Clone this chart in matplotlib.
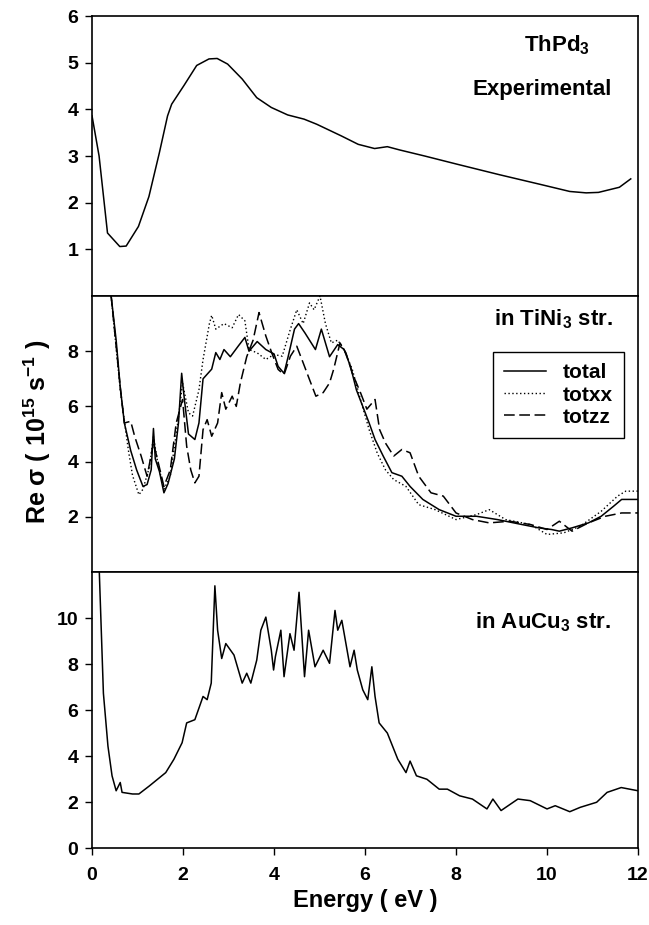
import matplotlib
matplotlib.use('Agg')
import matplotlib.pyplot as plt
import numpy as np

plt.rcParams['font.family'] = 'Liberation Sans'
plt.rcParams['font.weight'] = 'bold'
plt.rcParams['mathtext.fontset'] = 'custom'
plt.rcParams['mathtext.rm'] = 'Liberation Sans:bold'
plt.rcParams['mathtext.default'] = 'rm'

# ThPd3 experimental
exp_e = [0, 0.155, 0.34, 0.61, 0.75, 1.02, 1.25, 1.48, 1.66, 1.75, 2.02, 2.30, 2.57, 2.75,
         2.98, 3.30, 3.62, 3.94, 4.30, 4.66, 4.94, 5.48, 5.85, 6.21, 6.49, 6.76, 7.31, 8.04,
         8.95, 9.86, 10.5, 10.86, 11.13, 11.59, 11.84]
exp_s = [3.86, 3.0, 1.35, 1.06, 1.07, 1.49, 2.13, 3.07, 3.86, 4.11, 4.51, 4.94, 5.08, 5.09,
         4.97, 4.65, 4.25, 4.04, 3.88, 3.79, 3.68, 3.43, 3.25, 3.16, 3.2, 3.13, 3.0, 2.82,
         2.6, 2.39, 2.24, 2.21, 2.22, 2.33, 2.51]

# TiNi3 structure: total
tot_e = [0.42, 0.53, 0.62, 0.71, 0.85, 0.98, 1.12, 1.21, 1.30, 1.35, 1.39, 1.48, 1.58, 1.67,
         1.81, 1.90, 1.97, 2.03, 2.12, 2.26, 2.35, 2.44, 2.63, 2.72, 2.81, 2.90, 3.04, 3.22,
         3.36, 3.45, 3.63, 3.82, 4.0, 4.09, 4.22, 4.31, 4.45, 4.54, 4.68, 4.91, 5.04, 5.22,
         5.40, 5.54, 5.68, 5.81, 5.95, 6.09, 6.22, 6.40, 6.59, 6.81, 6.99, 7.27, 7.63, 8.0,
         8.45, 8.91, 9.45, 9.82, 10.1, 10.27, 10.55, 10.91, 11.19, 11.46, 11.64, 12.0]
tot_s = [10.0, 8.4, 6.7, 5.4, 4.4, 3.7, 3.1, 3.17, 3.7, 5.2, 4.1, 3.65, 2.87, 3.2,
         4.1, 5.4, 7.2, 6.25, 5.0, 4.8, 5.4, 7.0, 7.35, 7.95, 7.7, 8.06, 7.8, 8.2,
         8.5, 8.0, 8.35, 8.06, 7.9, 7.45, 7.2, 7.8, 8.8, 9.0, 8.66, 8.06, 8.8, 7.8,
         8.24, 8.06, 7.45, 6.6, 6.0, 5.4, 4.8, 4.2, 3.6, 3.47, 3.1, 2.63, 2.26, 2.02,
         2.02, 1.9, 1.72, 1.6, 1.54, 1.48, 1.6, 1.78, 2.02, 2.38, 2.63, 2.63]

# TiNi3 structure: xx component
xx_e = [0.42, 0.62, 0.80, 0.89, 1.03, 1.12, 1.26, 1.35, 1.44, 1.58, 1.72, 1.90, 1.99, 2.12,
        2.21, 2.35, 2.44, 2.58, 2.63, 2.72, 2.90, 3.08, 3.22, 3.36, 3.45, 3.63, 3.82, 4.0,
        4.18, 4.36, 4.50, 4.64, 4.78, 4.88, 5.01, 5.13, 5.26, 5.40, 5.54, 5.72, 5.90, 6.09,
        6.27, 6.45, 6.63, 6.90, 7.18, 7.54, 8.0, 8.45, 8.73, 9.09, 9.64, 10.0, 10.37, 10.73,
        11.19, 11.55, 11.73, 12.0]
xx_s = [10.0, 6.6, 4.4, 3.5, 2.8, 3.0, 3.8, 4.9, 4.0, 3.0, 3.47, 5.6, 6.85, 5.77,
        5.65, 6.6, 7.7, 9.0, 9.3, 8.8, 9.0, 8.85, 9.33, 9.1, 8.06, 7.94, 7.7, 7.88,
        7.82, 8.8, 9.5, 9.0, 9.75, 9.5, 10.0, 9.0, 8.3, 8.4, 8.06, 7.34, 6.25, 5.16,
        4.3, 3.7, 3.35, 3.1, 2.44, 2.26, 1.9, 2.08, 2.26, 1.9, 1.72, 1.36, 1.42, 1.66,
        2.2, 2.75, 2.93, 2.93]

# TiNi3 structure: zz component
zz_e = [0.42, 0.62, 0.71, 0.85, 0.94, 1.08, 1.21, 1.35, 1.44, 1.58, 1.72, 1.85, 1.99, 2.08,
        2.17, 2.26, 2.35, 2.44, 2.53, 2.63, 2.76, 2.85, 2.94, 3.08, 3.17, 3.26, 3.40, 3.54,
        3.67, 3.82, 3.95, 4.09, 4.22, 4.36, 4.50, 4.64, 4.78, 4.92, 5.08, 5.22, 5.31, 5.45,
        5.58, 5.72, 5.90, 6.04, 6.22, 6.32, 6.45, 6.63, 6.81, 6.99, 7.18, 7.45, 7.72, 8.0,
        8.36, 8.73, 9.18, 9.64, 10.0, 10.27, 10.55, 10.91, 11.28, 11.64, 12.0]
zz_s = [10.0, 6.7, 5.4, 5.46, 4.9, 4.2, 3.47, 4.67, 4.07, 3.1, 3.7, 5.4, 6.25, 4.56,
        3.7, 3.23, 3.47, 5.16, 5.52, 4.92, 5.4, 6.5, 5.9, 6.37, 6.0, 6.85, 7.8, 8.4,
        9.4, 8.55, 7.94, 7.34, 7.15, 7.82, 8.18, 7.58, 6.97, 6.37, 6.5, 6.85, 7.34, 8.3,
        7.94, 7.2, 6.5, 5.9, 6.25, 5.16, 4.67, 4.2, 4.44, 4.32, 3.47, 2.87, 2.75, 2.14,
        1.9, 1.78, 1.84, 1.72, 1.54, 1.84, 1.48, 1.78, 2.02, 2.14, 2.14]

# AuCu3 structure
au_e = [0.16, 0.25, 0.35, 0.44, 0.53, 0.62, 0.66, 0.89, 1.03, 1.26, 1.62, 1.80, 1.98, 2.08,
        2.26, 2.44, 2.53, 2.62, 2.70, 2.76, 2.85, 2.94, 3.12, 3.30, 3.40, 3.49, 3.62, 3.71,
        3.82, 3.94, 3.99, 4.03, 4.15, 4.22, 4.31, 4.35, 4.44, 4.55, 4.67, 4.76, 4.90, 5.08,
        5.22, 5.34, 5.40, 5.49, 5.58, 5.67, 5.76, 5.83, 5.95, 6.06, 6.15, 6.22, 6.31, 6.49,
        6.72, 6.90, 6.99, 7.13, 7.36, 7.63, 7.81, 8.08, 8.36, 8.68, 8.81, 8.99, 9.36, 9.63,
        10.0, 10.18, 10.5, 10.73, 11.09, 11.32, 11.63, 12.0]
au_s = [12.0, 6.73, 4.43, 3.14, 2.49, 2.85, 2.42, 2.35, 2.35, 2.7, 3.28, 3.86, 4.58, 5.44,
        5.58, 6.59, 6.45, 7.17, 11.4, 9.47, 8.24, 8.89, 8.39, 7.17, 7.6, 7.17, 8.17, 9.47,
        10.04, 8.6, 7.74, 8.32, 9.47, 7.45, 8.75, 9.32, 8.6, 11.12, 7.45, 9.47, 7.88, 8.6,
        8.03, 10.33, 9.47, 9.9, 8.89, 7.88, 8.6, 7.74, 6.88, 6.45, 7.88, 6.59, 5.44, 5.0,
        3.86, 3.28, 3.78, 3.14, 2.99, 2.56, 2.56, 2.27, 2.13, 1.7, 2.13, 1.63, 2.13, 2.06,
        1.7, 1.84, 1.58, 1.77, 1.99, 2.42, 2.63, 2.49]

fig = plt.figure(figsize=(6.49, 9.25), dpi=100)
left, width = 0.1418, 0.8413
ax1 = fig.add_axes([left, 0.680, width, 0.3027])
ax2 = fig.add_axes([left, 0.3816, width, 0.2984])
ax3 = fig.add_axes([left, 0.0832, width, 0.2984])

for ax in (ax1, ax2, ax3):
    ax.set_xlim(0, 12)
    for s in ax.spines.values():
        s.set_linewidth(1.2)
    ax.tick_params(axis='y', direction='out', length=5, width=1.0, labelsize=14, pad=5)
    ax.tick_params(axis='x', direction='out', length=5, width=1.0, labelsize=14, pad=9)
for ax in (ax1, ax2):
    ax.tick_params(axis='x', bottom=False, labelbottom=False)

ax1.plot(exp_e, exp_s, color='black', lw=1.1)
ax1.set_ylim(0, 6)
ax1.set_yticks([1, 2, 3, 4, 5, 6])
ax1.text(10.22, 5.37, 'ThPd$_3$', ha='center', va='center', fontsize=16, fontweight='bold')
ax1.text(9.9, 4.43, 'Experimental', ha='center', va='center', fontsize=16, fontweight='bold')

l1, = ax2.plot(tot_e, tot_s, color='black', lw=1.1, label='total')
l2, = ax2.plot(xx_e, xx_s, color='black', lw=1.0, ls=(0, (1, 1.8)), label='totxx')
l3, = ax2.plot(zz_e, zz_s, color='black', lw=1.1, ls=(0, (7, 3)), label='totzz')
ax2.set_ylim(0, 10)
ax2.set_yticks([2, 4, 6, 8])
ax2.text(11.44, 9.15, 'in TiNi$_3$ str.', ha='right', va='center', fontsize=16, fontweight='bold')
leg = ax2.legend(handles=[l1, l2, l3], loc='upper left', bbox_to_anchor=(0.734, 0.797),
                 fontsize=15, frameon=True, fancybox=False, edgecolor='black',
                 framealpha=1, handlelength=2.0, labelspacing=0.15, borderpad=0.55,
                 handletextpad=0.8, borderaxespad=0)
leg.get_frame().set_linewidth(1.0)

ax3.plot(au_e, au_s, color='black', lw=1.1)
ax3.set_ylim(0, 12)
ax3.set_yticks([0, 2, 4, 6, 8, 10])
ax3.set_xticks([0, 2, 4, 6, 8, 10, 12])
ax3.text(9.92, 9.83, 'in AuCu$_3$ str.', ha='center', va='center', fontsize=16, fontweight='bold')

fig.text(0.5624, 0.0195, 'Energy ( eV )', ha='center', va='baseline', fontsize=17, fontweight='bold')
fig.text(0.058, 0.533, 'Re σ ( 10$^{15}$ s$^{-1}$ )', ha='center', va='center',
         rotation=90, fontsize=18, fontweight='bold')

fig.savefig('out.png', dpi=100)
